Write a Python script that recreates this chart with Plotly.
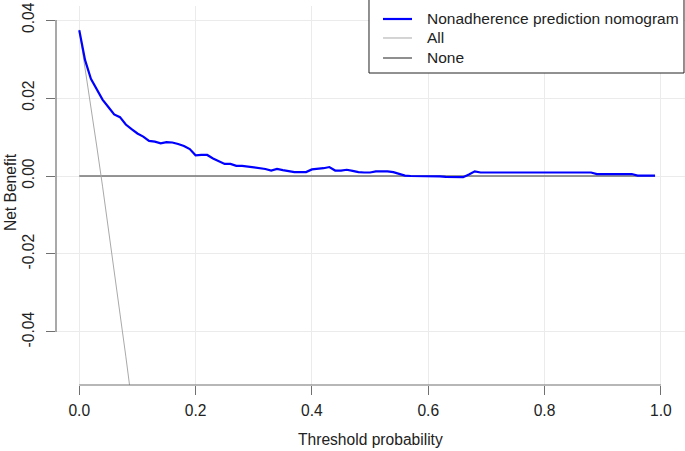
import plotly.graph_objects as go

thresholds = [0.00, 0.01, 0.02, 0.03, 0.04, 0.05, 0.06, 0.07, 0.08, 0.09,
              0.10, 0.11, 0.12, 0.13, 0.14, 0.15, 0.16, 0.17, 0.18, 0.19,
              0.20, 0.21, 0.22, 0.23, 0.24, 0.25, 0.26, 0.27, 0.28, 0.29,
              0.30, 0.31, 0.32, 0.33, 0.34, 0.35, 0.36, 0.37, 0.38, 0.39,
              0.40, 0.41, 0.42, 0.43, 0.44, 0.45, 0.46, 0.47, 0.48, 0.49,
              0.50, 0.51, 0.52, 0.53, 0.54, 0.55, 0.56, 0.57, 0.58, 0.59,
              0.60, 0.61, 0.62, 0.63, 0.64, 0.65, 0.66, 0.67, 0.68, 0.69,
              0.70, 0.71, 0.72, 0.73, 0.74, 0.75, 0.76, 0.77, 0.78, 0.79,
              0.80, 0.81, 0.82, 0.83, 0.84, 0.85, 0.86, 0.87, 0.88, 0.89,
              0.90, 0.91, 0.92, 0.93, 0.94, 0.95, 0.96, 0.97, 0.98, 0.99]

nomogram_nb = [0.0374, 0.0297, 0.0249, 0.0223, 0.0196, 0.0177, 0.0158, 0.0151, 0.0132, 0.0120,
               0.0109, 0.0101, 0.0090, 0.0088, 0.0084, 0.0087, 0.0086, 0.0082, 0.0077, 0.0069,
               0.0053, 0.0054, 0.0054, 0.0045, 0.0037, 0.0031, 0.0031, 0.0026, 0.0026, 0.0024,
               0.0021, 0.0020, 0.0018, 0.0014, 0.0018, 0.0015, 0.0012, 0.0010, 0.0010, 0.0010,
               0.0017, 0.0018, 0.0020, 0.0023, 0.0014, 0.0014, 0.0016, 0.0013, 0.0010, 0.0009,
               0.0009, 0.0012, 0.0012, 0.0012, 0.0010, 0.0005, 0.0001, 0.0000, 0.0000, -0.0001,
               -0.0001, -0.0001, -0.0001, -0.0002, -0.0002, -0.0002, -0.0003, 0.0004, 0.0012, 0.0009,
               0.0009, 0.0009, 0.0009, 0.0009, 0.0009, 0.0009, 0.0009, 0.0009, 0.0009, 0.0009,
               0.0009, 0.0009, 0.0009, 0.0009, 0.0009, 0.0009, 0.0009, 0.0009, 0.0009, 0.0005,
               0.0005, 0.0005, 0.0005, 0.0005, 0.0005, 0.0005, 0.0001, 0.0001, 0.0001, 0.0001]

all_thresholds = [0.00, 0.01, 0.02, 0.03, 0.04, 0.05, 0.06, 0.07, 0.08, 0.09]
all_nb = [0.0375, 0.0278, 0.0179, 0.0077, -0.0026, -0.0132, -0.0239, -0.0350, -0.0462, -0.0577]

none_thresholds = [0.00, 0.99]
none_nb = [0.0, 0.0]

x_ticks = [0.0, 0.2, 0.4, 0.6, 0.8, 1.0]
x_ticktext = ["0.0", "0.2", "0.4", "0.6", "0.8", "1.0"]
y_ticks = [-0.04, -0.02, 0.0, 0.02, 0.04]
y_ticktext = ["-0.04", "-0.02", "0.00", "0.02", "0.04"]

legend_labels = ["Nonadherence prediction nomogram", "All", "None"]

FONT = "Liberation Sans, Arial, Helvetica, sans-serif"
FS = 15.6
AXIS_COL = "#707070"
TXT = "#222222"
COL_MODEL = "#0000FF"
COL_ALL = "#A9A9A9"
COL_NONE = "#737373"
W_MODEL, W_ALL, W_NONE = 2.2, 1, 1.6

fig = go.Figure()
fig.add_trace(go.Scatter(x=none_thresholds, y=none_nb, mode="lines", name=legend_labels[2],
                         line=dict(color=COL_NONE, width=W_NONE), showlegend=False))
fig.add_trace(go.Scatter(x=all_thresholds, y=all_nb, mode="lines", name=legend_labels[1],
                         line=dict(color=COL_ALL, width=W_ALL), showlegend=False))
fig.add_trace(go.Scatter(x=thresholds, y=nomogram_nb, mode="lines", name=legend_labels[0],
                         line=dict(color=COL_MODEL, width=W_MODEL), showlegend=False))

# legend box drawn in paper coordinates
box = dict(type="rect", xref="paper", yref="paper", x0=0.4976, x1=0.9984, y0=0.8232, y1=1.03,
           line=dict(color=TXT, width=1), fillcolor="white", layer="above")
row_y = [0.9657, 0.9156, 0.8628]
row_cols = [COL_MODEL, COL_ALL, COL_NONE]
row_w = [W_MODEL, W_ALL, W_NONE]
legend_shapes = [box]
legend_texts = []
for lab, yy, cc, ww in zip(legend_labels, row_y, row_cols, row_w):
    legend_shapes.append(dict(type="line", xref="paper", yref="paper", x0=0.5199, x1=0.566,
                              y0=yy, y1=yy, line=dict(color=cc, width=ww), layer="above"))
    legend_texts.append(dict(text=lab, xref="paper", yref="paper", x=0.5866, y=yy,
                             xanchor="left", yanchor="middle", showarrow=False,
                             font=dict(family=FONT, size=15.5, color=TXT)))

fig.update_layout(
    width=685, height=451,
    margin=dict(l=56, r=0, t=6, b=66, autoexpand=False),
    paper_bgcolor="white", plot_bgcolor="white",
    font=dict(family=FONT, size=FS, color=TXT),
    showlegend=False,
    xaxis=dict(
        range=[-0.04, 1.0415], tickvals=x_ticks, ticktext=x_ticktext,
        showgrid=True, gridcolor="#EBEBEB", gridwidth=1,
        zeroline=False, showline=False, automargin=False,
        ticks="outside", ticklen=9, tickcolor=AXIS_COL, tickwidth=1,
        ticklabelstandoff=2, tickfont=dict(family=FONT, size=FS, color=TXT),
    ),
    yaxis=dict(
        range=[-0.0536, 0.0436], tickvals=y_ticks, ticktext=y_ticktext,
        tickangle=-90,
        showgrid=True, gridcolor="#EBEBEB", gridwidth=1,
        zeroline=False, showline=False, automargin=False,
        ticks="outside", ticklen=9, tickcolor=AXIS_COL, tickwidth=1,
        ticklabelstandoff=6, tickfont=dict(family=FONT, size=FS, color=TXT),
    ),
    shapes=[
        dict(type="line", xref="x", yref="paper", x0=x_ticks[0], x1=x_ticks[-1], y0=0, y1=0,
             line=dict(color=AXIS_COL, width=1.2)),
        dict(type="line", xref="paper", yref="y", x0=0, x1=0, y0=y_ticks[0], y1=y_ticks[-1],
             line=dict(color=AXIS_COL, width=1.2)),
    ] + legend_shapes,
    annotations=[
        dict(text="Threshold probability", xref="paper", yref="paper", x=0.5, y=-0.145,
             xanchor="center", yanchor="middle", showarrow=False,
             font=dict(family=FONT, size=FS, color=TXT)),
        dict(text="Net Benefit", xref="paper", yref="paper", x=-0.0731, y=0.509,
             xanchor="center", yanchor="middle", textangle=-90, showarrow=False,
             font=dict(family=FONT, size=FS, color=TXT)),
    ] + legend_texts,
)

fig.write_html("out.html", config={"displayModeBar": False},
               post_script="document.body.style.margin='0';")
